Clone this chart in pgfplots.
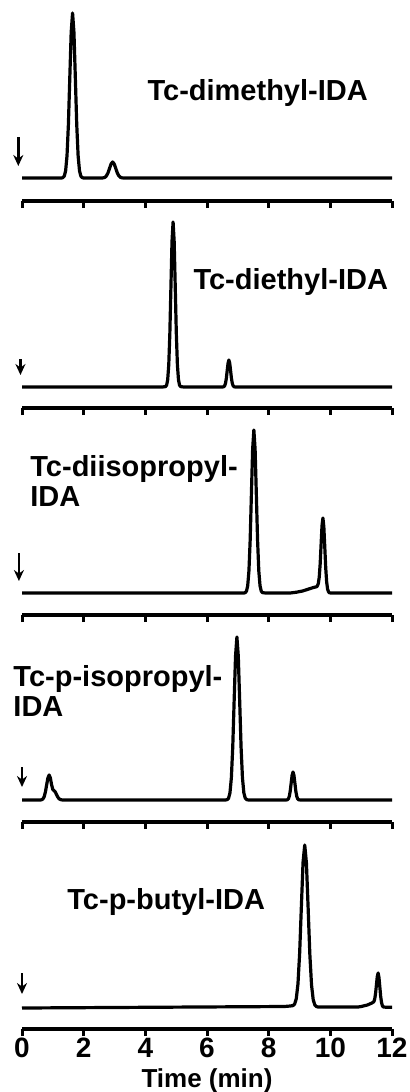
\documentclass[border=0pt]{standalone}
\usepackage{fontspec}
\setmainfont{Liberation Sans}
\usepackage{pgfplots}
\pgfplotsset{compat=1.18}
\usetikzlibrary{arrows.meta}

% one panel of the stack: only the time axis is shown, y is in px above the baseline
\pgfplotsset{
  chrom/.style={
    scale only axis, width=185pt, xmin=0, xmax=12, ymax=170,
    anchor=south west, clip=false,
    axis x line=bottom, axis y line=none,
    x axis line style={-, line width=2pt},
    xtick={0,2,...,12}, tick align=outside, major tick length=3.5pt,
    tick style={black, line width=1.5pt},
    xticklabels={},
  },
}
\tikzset{
  tr/.style={black, line width=1.6pt, line join=round, mark=none},
  lab/.style={anchor=north west, inner sep=0pt, align=left,
    font=\fontsize{14.5}{15}\selectfont\bfseries},
  inj/.style={line width=1.4pt, -{Stealth[length=5.5pt,width=5pt]}},
}

\begin{document}
\begin{tikzpicture}
\useasboundingbox (0,0) rectangle (205pt,-546pt);

% Tc-dimethyl-IDA
\begin{axis}[chrom, at={(11pt,-100.5pt)}, ymin=-23, height=96.5pt]
\addplot[tr] coordinates {(0,0)(1.28,0)(1.325,0.4)(1.37,1.8)(1.415,7.2)(1.46,22.3)(1.505,53.6)
 (1.55,100.1)(1.595,145.6)(1.64,165)(1.685,145.6)(1.73,100.1)(1.775,53.6)(1.82,22.3)
 (1.865,7.2)(1.91,1.8)(1.955,0.4)(2.0,0)(2.59,0)(2.64,0.2)(2.69,0.7)(2.74,2.2)(2.79,5.2)
 (2.84,9.7)(2.89,14.1)(2.94,16)(2.99,14.1)(3.04,9.7)(3.09,5.2)(3.14,2.2)(3.19,0.7)
 (3.24,0.2)(3.29,0)(12,0)};
\draw[inj] (axis cs:-0.12,41) -- (axis cs:-0.12,12);
\node[lab] at (axis cs:4.06,99) {Tc-dimethyl-IDA};
\end{axis}

% Tc-diethyl-IDA
\begin{axis}[chrom, at={(11pt,-204pt)}, ymin=-21, height=95.5pt]
\addplot[tr] coordinates {(0,0)(4.55,0)(4.655,0.4)(4.69,1.8)(4.725,7.2)(4.76,22.3)(4.795,53.6)
 (4.83,100.1)(4.865,145.6)(4.9,165)(4.935,145.6)(4.97,100.1)(5.005,53.6)(5.04,22.3)
 (5.075,7.2)(5.11,1.8)(5.145,0.4)(5.25,0)(6.5,0)(6.545,0.3)(6.5725,1.2)(6.6,3.7)
 (6.6275,8.8)(6.655,16.4)(6.6825,23.8)(6.71,27)(6.7375,23.8)(6.765,16.4)(6.7925,8.8)
 (6.82,3.7)(6.8475,1.2)(6.875,0.3)(6.92,0)(12,0)};
\draw[inj] (axis cs:-0.05,28) -- (axis cs:-0.05,12);
\node[lab] at (axis cs:5.55,119) {Tc-diethyl-IDA};
\end{axis}

% Tc-diisopropyl-IDA
\begin{axis}[chrom, at={(11pt,-307.5pt)}, ymin=-22, height=96pt]
\addplot[tr] coordinates {(0,0)(7.2,0)(7.24,0.4)(7.28,1.8)(7.32,7.2)(7.36,22.1)(7.4,52.9)
 (7.44,98.9)(7.48,143.8)(7.52,163)(7.56,143.8)(7.6,98.9)(7.64,52.9)(7.68,22.1)(7.72,7.2)
 (7.76,1.8)(7.8,0.4)(7.9,0)(8.7,0)(8.9,0.8)(9.1,2)(9.3,4)(9.45,5.5)(9.52,6)(9.55,6.2)
 (9.58,7.1)(9.61,9.5)(9.64,15.8)(9.67,28.9)(9.7,48.3)(9.73,67.4)(9.76,75)(9.79,65.9)
 (9.82,45.8)(9.85,25.4)(9.88,11.3)(9.91,4)(9.94,1.3)(9.97,0.15)(10.05,0)(12,0)};
\draw[inj] (axis cs:-0.1,40) -- (axis cs:-0.1,12);
\node[lab] at (axis cs:0.26,138) {Tc-diisopropyl-\\IDA};
\end{axis}

% Tc-p-isopropyl-IDA
\begin{axis}[chrom, at={(11pt,-411pt)}, ymin=-22, height=96pt]
\addplot[tr] coordinates {(0,0)(0.6,0)(0.64,0.3)(0.68,1.1)(0.72,3.4)(0.76,8.1)(0.8,15.2)
 (0.84,22.1)(0.88,25)(0.92,22.1)(0.96,15.2)(1.0,10.5)(1.04,9.2)(1.08,8)(1.12,5.5)
 (1.16,3)(1.2,1.3)(1.25,0.4)(1.32,0)(6.6,0)(6.655,0.4)(6.7,1.8)(6.745,7.2)(6.79,22.1)
 (6.835,52.9)(6.88,98.9)(6.925,143.8)(6.97,163)(7.015,143.8)(7.06,98.9)(7.105,52.9)
 (7.15,22.1)(7.195,7.2)(7.24,1.8)(7.285,0.4)(7.35,0)(8.56,0)(8.61,0.3)(8.64,1.2)
 (8.67,3.8)(8.7,9.1)(8.73,17)(8.76,24.7)(8.79,28)(8.82,24.7)(8.85,17)(8.88,9.1)
 (8.91,3.8)(8.94,1.2)(8.97,0.3)(9.03,0)(12,0)};
\draw[inj] (axis cs:0,33) -- (axis cs:0,13);
\node[lab] at (axis cs:-0.29,135) {Tc-p-isopropyl-\\IDA};
\end{axis}

% Tc-p-butyl-IDA
\begin{axis}[chrom, at={(11pt,-514.5pt)}, ymin=-21, height=95.5pt,
  xticklabels={\textbf{0},\textbf{2},\textbf{4},\textbf{6},\textbf{8},\textbf{10},\textbf{12}},
  xticklabel style={font=\fontsize{14}{14}\selectfont\bfseries, inner sep=1pt},
  xlabel={Time (min)},
  xlabel style={font=\fontsize{13}{13}\selectfont\bfseries, inner sep=1pt, yshift=-3pt}]
\addplot[tr] coordinates {(0,0)(8.5,1.5)(8.7,2)(8.785,2.4)(8.84,3.8)(8.895,9.2)(8.95,24.1)
 (9.005,54.9)(9.06,100.9)(9.115,145.8)(9.17,163)(9.225,144.8)(9.28,99.9)(9.335,53.9)
 (9.39,23.1)(9.445,8.2)(9.5,2.8)(9.555,1.4)(9.6,1)(10.9,1)(11.0,1.5)(11.2,3)(11.35,5)
 (11.4125,6.3)(11.44,9.1)(11.4675,14.7)(11.495,23.2)(11.5225,31.5)(11.55,35)
 (11.5775,30.5)(11.605,21.2)(11.6325,11.7)(11.66,5.6)(11.6875,2.3)(11.715,1.1)
 (11.8,0.8)(12,0.8)};
\draw[inj] (axis cs:0,35) -- (axis cs:0,14);
\node[lab] at (axis cs:1.46,120) {Tc-p-butyl-IDA};
\end{axis}
\end{tikzpicture}
\end{document}
